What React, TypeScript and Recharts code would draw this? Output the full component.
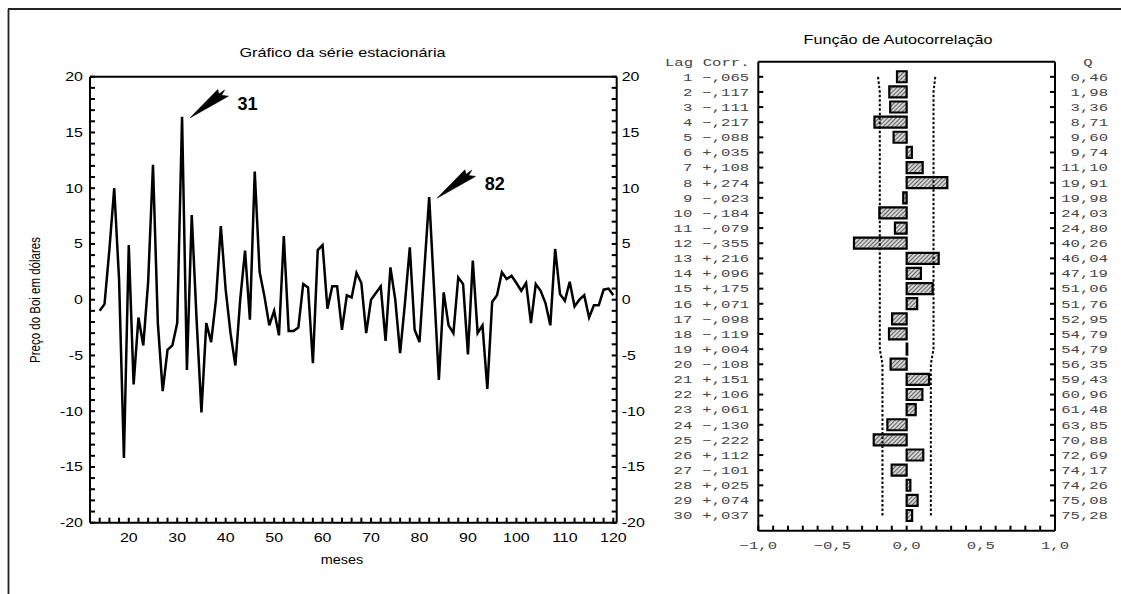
import React from "react";
import { Bar, ComposedChart, Line, LineChart, ReferenceDot, XAxis, YAxis } from "recharts";

const SANS = "'Liberation Sans', Arial, Helvetica, sans-serif";
const MONO = "'Liberation Mono', 'Courier New', monospace";

// série estacionária (diferenciada), meses 14 a 120
const firstMonth = 14;
const serie = [
  -1.0, -0.4, 4.5, 10.0, 1.8, -14.2, 4.9, -7.6, -1.6, -4.1,
  1.6, 12.1, -2.1, -8.2, -4.5, -4.1, -2.1, 16.4, -6.3, 7.6,
  -1.8, -10.1, -2.1, -3.8, 0.0, 6.6, 0.9, -3.0, -5.9, 0.0,
  4.4, -1.8, 11.5, 2.5, 0.3, -2.3, -1.0, -3.2, 5.7, -2.8,
  -2.8, -2.5, 1.4, 1.1, -5.7, 4.45, 4.9, -0.8, 1.2, 1.2,
  -2.7, 0.4, 0.2, 2.4, 1.5, -3.0, 0.0, 0.6, 1.2, -3.7,
  2.9, 0.0, -4.8, -0.3, 4.7, -2.7, -3.8, 2.7, 9.2, 1.0,
  -7.2, 0.66, -2.3, -3.0, 2.0, 1.4, -4.9, 3.5, -3.0, -2.3,
  -8.0, -0.2, 0.4, 2.45, 1.85, 2.15, 1.5, 0.8, 1.5, -2.1,
  1.4, 0.8, -0.3, -2.3, 4.55, 0.5, -0.1, 1.6, -0.6, 0.0,
  0.4, -1.6, -0.5, -0.5, 0.9, 1.0, 0.4,
];
const destaques = [31, 82];
const xLabels = [20, 30, 40, 50, 60, 70, 80, 90, 100, 110, 120];
const yLabels = [-20, -15, -10, -5, 0, 5, 10, 15, 20];

// autocorrelação
const lags = [1, 2, 3, 4, 5, 6, 7, 8, 9, 10, 11, 12, 13, 14, 15, 16, 17, 18, 19, 20, 21, 22, 23, 24, 25, 26, 27, 28, 29, 30];
const corr = [
  -0.065, -0.117, -0.111, -0.217, -0.088, 0.035, 0.108, 0.274, -0.023, -0.184,
  -0.079, -0.355, 0.216, 0.096, 0.175, 0.071, -0.098, -0.119, 0.004, -0.108,
  0.151, 0.106, 0.061, -0.13, -0.222, 0.112, -0.101, 0.025, 0.074, 0.037,
];
const qStat = [
  0.46, 1.98, 3.36, 8.71, 9.6, 9.74, 11.1, 19.91, 19.98, 24.03,
  24.8, 40.26, 46.04, 47.19, 51.06, 51.76, 52.95, 54.79, 54.79, 56.35,
  59.43, 60.96, 61.48, 63.85, 70.88, 72.69, 74.17, 74.26, 75.08, 75.28,
];
const confLimit = [
  0.193, 0.181, 0.181, 0.181, 0.181, 0.181, 0.181, 0.181, 0.181, 0.181,
  0.181, 0.181, 0.181, 0.181, 0.181, 0.181, 0.181, 0.181, 0.181, 0.163,
  0.163, 0.163, 0.163, 0.163, 0.163, 0.163, 0.163, 0.163, 0.163, 0.163,
];
const acfLabels = [-1, -0.5, 0, 0.5, 1];

const range = (a: number, b: number, s: number) => {
  const out: number[] = [];
  for (let v = a; v <= b + 1e-9; v += s) out.push(Math.round(v * 100) / 100);
  return out;
};
const yMinor = range(-20, 20, 1);
const xMinor = range(14, 120, 2);
const acfMinor = range(-1, 1, 0.1);

const lineData = serie.map((v, i) => ({ mes: firstMonth + i, valor: v }));
const acfData = lags.map((lag, i) => ({ lag, corr: corr[i], lo: -confLimit[i], hi: confLimit[i] }));

const axisLine = { stroke: "#000", strokeWidth: 2 };
const tickLine = { stroke: "#000", strokeWidth: 2 };
const TICK = -5;

function Wide({ x, y, sx = 1.33, anchor = "start", size = 12, family = SANS, fill = "#000", children }: any) {
  return (
    <text
      transform={`translate(${x},${y}) scale(${sx},1)`}
      textAnchor={anchor}
      fontSize={size}
      fontFamily={family}
      fill={fill}
    >
      {children}
    </text>
  );
}

function Mono(props: any) {
  return <Wide sx={1.42} size={11} family={MONO} fill="#444" {...props} />;
}

function XTick({ x, y, payload }: any) {
  if (!xLabels.includes(payload.value)) return <g />;
  return <Wide x={x} y={y + 19} anchor="middle">{payload.value}</Wide>;
}

function YLeftTick({ x, y, payload }: any) {
  if (!yLabels.includes(payload.value)) return <g />;
  return <Wide x={x - 7} y={y + 4.3} anchor="end">{payload.value}</Wide>;
}

function YRightTick({ x, y, payload }: any) {
  if (!yLabels.includes(payload.value)) return <g />;
  return <Wide x={x + 5} y={y + 4.3}>{payload.value}</Wide>;
}

// seta com cauda em leque, apontando para o pico destacado
function Seta({ cx, cy, rotulo }: any) {
  const tx = cx + 8;
  const ty = cy + 1;
  const pts = [[0, 0], [27.7, -28.3], [28.8, -23.8], [34.5, -27.8], [31.5, -22.6], [38.3, -21.7]]
    .map(([a, b]) => `${tx + a},${ty + b}`)
    .join(" ");
  return (
    <g>
      <polygon points={pts} fill="#000" stroke="#000" strokeWidth={0.6} strokeLinejoin="round" />
      <text x={tx + 47.5} y={ty - 8} fontSize={18} fontWeight="bold" fontFamily={SANS}>
        {rotulo}
      </text>
    </g>
  );
}

const fmtCorr = (v: number) => (v < 0 ? "\u2212" : "+") + Math.abs(v).toFixed(3).replace("0.", ",");
const fmtQ = (v: number) => v.toFixed(2).replace(".", ",");

function LagTick({ x, y, payload }: any) {
  const i = lags.indexOf(payload.value);
  return (
    <g>
      <Mono x={x - 66} y={y + 3.8} anchor="end">{payload.value}</Mono>
      <Mono x={x - 56} y={y + 3.8}>{fmtCorr(corr[i])}</Mono>
    </g>
  );
}

function QTick({ x, y, payload }: any) {
  const i = lags.indexOf(payload.value);
  return <Mono x={x + 53} y={y + 3.8} anchor="end">{fmtQ(qStat[i])}</Mono>;
}

function AcfXTick({ x, y, payload }: any) {
  const v = payload.value;
  if (!acfLabels.some((l) => Math.abs(l - v) < 1e-6)) return <g />;
  const txt = (v < -1e-9 ? "\u2212" : "") + Math.abs(v).toFixed(1).replace(".", ",");
  return <Mono x={x} y={y + 18} anchor="middle">{txt}</Mono>;
}

function SeriePlot() {
  return (
    <LineChart
      width={660}
      height={594}
      data={lineData}
      margin={{ top: 46.7, right: 13.3, bottom: 41.3, left: 30 }}
    >
      <XAxis xAxisId="b" dataKey="mes" type="number" domain={[12, 120.7]} allowDataOverflow ticks={xMinor}
        interval={0} height={30} tickSize={TICK} tickMargin={-TICK} axisLine={axisLine} tickLine={tickLine} tick={<XTick />} />
      <XAxis xAxisId="t" orientation="top" dataKey="mes" type="number" domain={[12, 120.7]} allowDataOverflow
        ticks={xMinor} interval={0} height={30} tickSize={TICK} axisLine={axisLine} tickLine={tickLine} tick={false} />
      <YAxis yAxisId="l" type="number" domain={[-20, 20]} allowDataOverflow ticks={yMinor} interval={0} width={60}
        tickSize={TICK} tickMargin={-TICK} axisLine={axisLine} tickLine={tickLine} tick={<YLeftTick />} />
      <YAxis yAxisId="r" orientation="right" type="number" domain={[-20, 20]} allowDataOverflow ticks={yMinor}
        interval={0} width={30} tickSize={TICK} tickMargin={-TICK} axisLine={axisLine} tickLine={tickLine} tick={<YRightTick />} />
      <Line xAxisId="b" yAxisId="l" type="linear" dataKey="valor" stroke="#000" strokeWidth={2.5}
        strokeLinejoin="miter" dot={false} isAnimationActive={false} />
      {destaques.map((m) => (
        <ReferenceDot key={m} xAxisId="b" yAxisId="l" x={m} y={serie[m - firstMonth]} r={1}
          shape={(p: any) => <Seta {...p} rotulo={String(m)} />} />
      ))}
    </LineChart>
  );
}

function AcfPlot() {
  return (
    <ComposedChart
      layout="vertical"
      width={481}
      height={594}
      data={acfData}
      margin={{ top: 31.7, right: 16, bottom: 33.3, left: 18.3 }}
    >
      <defs>
        <pattern id="hachura" width="3" height="3" patternUnits="userSpaceOnUse" patternTransform="rotate(45)">
          <rect width="3" height="3" fill="#d4d4d4" />
          <line x1="0" y1="0" x2="0" y2="3" stroke="#222" strokeWidth="1.3" />
        </pattern>
      </defs>
      <XAxis xAxisId="b" type="number" domain={[-1, 1]} allowDataOverflow ticks={acfMinor} interval={0} height={30}
        tickSize={TICK} tickMargin={-TICK} axisLine={axisLine} tickLine={tickLine} tick={<AcfXTick />} />
      <XAxis xAxisId="t" orientation="top" type="number" domain={[-1, 1]} allowDataOverflow ticks={acfMinor}
        interval={0} height={30} tickSize={TICK} axisLine={axisLine} tickLine={tickLine} tick={false} />
      <YAxis yAxisId="l" type="category" dataKey="lag" width={100} padding={{ top: 7.55, bottom: 7.55 }}
        interval={0} tickSize={TICK} tickMargin={-TICK} axisLine={axisLine} tickLine={tickLine} tick={<LagTick />} />
      <YAxis yAxisId="r" orientation="right" type="category" dataKey="lag" width={50}
        padding={{ top: 7.55, bottom: 7.55 }} interval={0} tickSize={TICK} tickMargin={-TICK} axisLine={axisLine}
        tickLine={tickLine} tick={<QTick />} />
      <Bar xAxisId="b" yAxisId="l" dataKey="corr" barSize={11} fill="url(#hachura)" stroke="#000"
        strokeWidth={2.2} isAnimationActive={false} />
      <Line xAxisId="b" yAxisId="l" type="linear" dataKey="lo" stroke="#000" strokeWidth={2}
        strokeDasharray="2.5 2" dot={false} isAnimationActive={false} />
      <Line xAxisId="t" yAxisId="r" type="linear" dataKey="hi" stroke="#000" strokeWidth={2}
        strokeDasharray="2.5 2" dot={false} isAnimationActive={false} />
    </ComposedChart>
  );
}

export default function App() {
  return (
    <div style={{ position: "absolute", left: 0, top: 0, width: 1121, height: 594, background: "#fff", overflow: "hidden" }}>
      <div style={{ position: "absolute", left: 0, top: 0 }}>
        <SeriePlot />
      </div>
      <div style={{ position: "absolute", left: 640, top: 0 }}>
        <AcfPlot />
      </div>
      <svg width={1121} height={594} style={{ position: "absolute", left: 0, top: 0, pointerEvents: "none" }}>
        <line x1={8} y1={9} x2={1121} y2={9} stroke="#222" strokeWidth={1.8} />
        <line x1={8.5} y1={9} x2={8.5} y2={594} stroke="#222" strokeWidth={1.8} />
        <Wide x={342.5} y={57} sx={1.35} anchor="middle">Gráfico da série estacionária</Wide>
        <Wide x={342} y={564} sx={1.2} anchor="middle">meses</Wide>
        <text transform="translate(40,300) rotate(-90) scale(1,1.3)" textAnchor="middle" fontSize={11.5} fontFamily={SANS}>
          Preço do Boi em dólares
        </text>
        <Wide x={898} y={44} sx={1.35} anchor="middle">Função de Autocorrelação</Wide>
        <Mono x={665} y={65.5}>Lag</Mono>
        <Mono x={702.7} y={65.5}>Corr.</Mono>
        <Mono x={1088} y={65.5} anchor="middle">Q</Mono>
      </svg>
    </div>
  );
}
